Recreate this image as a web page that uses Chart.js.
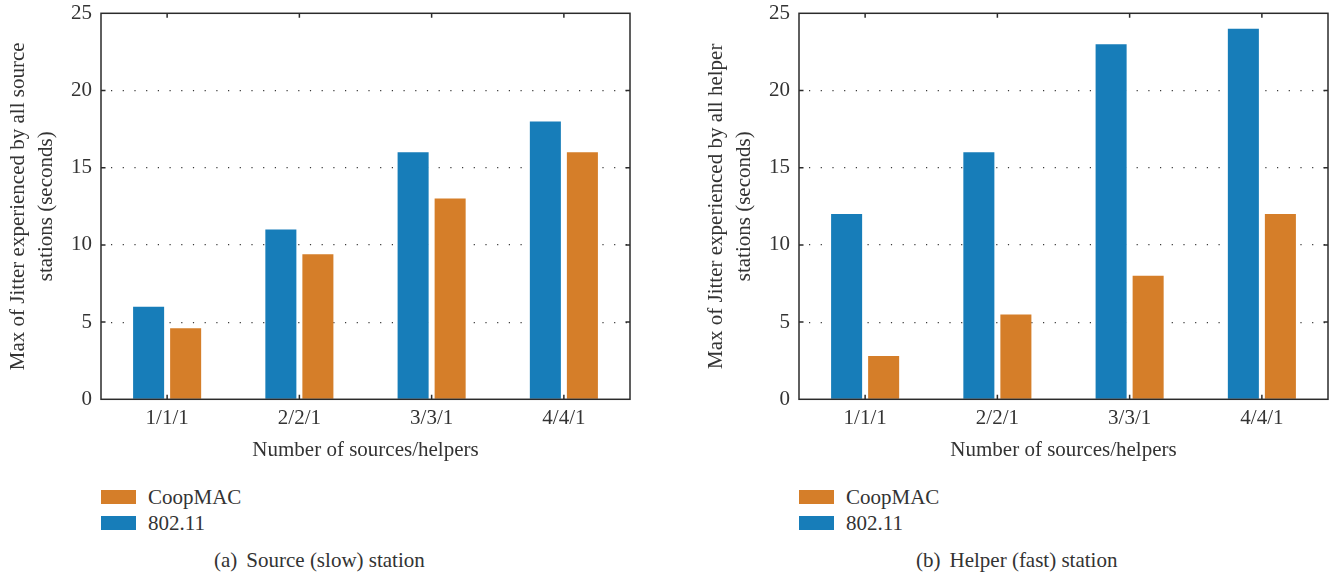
<!DOCTYPE html>
<html>
<head>
<meta charset="utf-8">
<script src="https://cdn.jsdelivr.net/npm/chart.js@4.4.1/dist/chart.umd.min.js"></script>
<style>
  html, body { margin: 0; padding: 0; background: #fff; overflow: hidden; }
  body { width: 1331px; height: 575px; position: relative; font-family: "Liberation Serif", serif; color: #333; }
  .panel { position: absolute; top: 0; width: 633px; height: 470px; }
  .legend { position: absolute; top: 490px; font-size: 21px; }
  .legend .row { display: flex; align-items: center; height: 14px; line-height: 14px; margin-bottom: 12px; white-space: nowrap; }
  .legend .swatch { width: 35px; height: 14px; margin-right: 12px; }
  .caption { position: absolute; top: 550px; font-size: 21px; line-height: 21px; white-space: nowrap; }
  .caption .tag { margin-right: 9px; }
</style>
</head>
<body>
<div class="panel" style="left:0"><canvas id="chartSource" width="633" height="470"></canvas></div>
<div class="panel" style="left:698px"><canvas id="chartHelper" width="633" height="470"></canvas></div>
<div class="legend" id="legendSource" style="left:101px"></div>
<div class="legend" id="legendHelper" style="left:799px"></div>
<div class="caption" style="left:214px"><span class="tag">(a)</span>Source (slow) station</div>
<div class="caption" style="left:916px"><span class="tag">(b)</span>Helper (fast) station</div>

<script>
// Categories: number of sources / helpers
const categories = ['1/1/1', '2/2/1', '3/3/1', '4/4/1'];

// Max jitter (seconds) seen by the source (slow) stations
const sourceWifi = [6, 11, 16, 18];
const sourceCoop = [4.6, 9.4, 13, 16];

// Max jitter (seconds) seen by the helper (fast) stations
const helperWifi = [12, 16, 23, 24];
const helperCoop = [2.8, 5.5, 8, 12];

// Y axis tick values
const yTickValues = [0, 5, 10, 15, 20, 25];

const seriesNames = ['802.11', 'CoopMAC'];
const seriesColors = ['#177db9', '#d57e29'];

const FONT = "'Liberation Serif', serif";
const INK = '#333';

// Box around the plot area plus short inward tick marks on all four sides
const framePlugin = {
  id: 'frame',
  afterDatasetsDraw(chart) {
    const { ctx, chartArea: { left, right, top, bottom }, scales: { x, y } } = chart;
    const t = 4.5;
    ctx.save();
    ctx.strokeStyle = '#2b2b2b';
    ctx.lineWidth = 1.5;
    ctx.strokeRect(left, top, right - left, bottom - top);
    ctx.beginPath();
    x.ticks.forEach((_, i) => {
      const px = x.getPixelForTick(i);
      ctx.moveTo(px, top); ctx.lineTo(px, top + t);
      ctx.moveTo(px, bottom); ctx.lineTo(px, bottom - t);
    });
    y.ticks.forEach((tk, i) => {
      if (tk.value <= y.min || tk.value >= y.max) return;
      const py = y.getPixelForTick(i);
      ctx.moveTo(left, py); ctx.lineTo(left + t, py);
      ctx.moveTo(right, py); ctx.lineTo(right - t, py);
    });
    ctx.stroke();
    ctx.restore();
  }
};

function makeChart(id, wifi, coop, yTitle) {
  const ctx = document.getElementById(id);
  return new Chart(ctx, {
    type: 'bar',
    data: {
      labels: categories,
      datasets: [
        { label: seriesNames[0], data: wifi, backgroundColor: seriesColors[0], borderWidth: 0,
          categoryPercentage: 0.56, barPercentage: 0.838 },
        { label: seriesNames[1], data: coop, backgroundColor: seriesColors[1], borderWidth: 0,
          categoryPercentage: 0.56, barPercentage: 0.838 }
      ]
    },
    options: {
      responsive: false,
      animation: false,
      layout: { padding: { left: 0, right: 3, top: 13.3, bottom: 0 } },
      plugins: { legend: { display: false }, tooltip: { enabled: false } },
      scales: {
        x: {
          grid: { display: false, drawTicks: false },
          border: { display: false },
          ticks: { color: INK, padding: 6.5, font: { family: FONT, size: 21, lineHeight: 1.2 } },
          title: {
            display: true, text: 'Number of sources/helpers', color: INK,
            font: { family: FONT, size: 21, lineHeight: 1.2 }, padding: { top: 0, bottom: 7.4 }
          },
          afterFit(scale) { scale.height = 70.7; }
        },
        y: {
          min: 0, max: 25,
          afterBuildTicks(scale) { scale.ticks = yTickValues.map(v => ({ value: v })); },
          grid: {
            drawTicks: false,
            lineWidth: 1.2,
            color: c => (c.tick && c.tick.value > 0 && c.tick.value < 25) ? '#3a3a3a' : 'rgba(0,0,0,0)'
          },
          border: { display: false, dash: [1.2, 10.5], dashOffset: -10 },
          ticks: { color: INK, padding: 9, font: { family: FONT, size: 21, lineHeight: 0.4 } },
          title: {
            display: true, text: yTitle, color: INK,
            font: { family: FONT, size: 21, lineHeight: 1.333 }, padding: { top: 4, bottom: 0 }
          },
          afterFit(scale) { scale.width = 101; }
        }
      }
    },
    plugins: [framePlugin]
  });
}

makeChart('chartSource', sourceWifi, sourceCoop,
  ['Max of Jitter experienced by all source', 'stations (seconds)']);
makeChart('chartHelper', helperWifi, helperCoop,
  ['Max of Jitter experienced by all helper', 'stations (seconds)']);

// Legends list CoopMAC first, then 802.11
function buildLegend(id) {
  const box = document.getElementById(id);
  [1, 0].forEach(i => {
    const row = document.createElement('div');
    row.className = 'row';
    const sw = document.createElement('div');
    sw.className = 'swatch';
    sw.style.background = seriesColors[i];
    const label = document.createElement('span');
    label.textContent = seriesNames[i];
    row.appendChild(sw);
    row.appendChild(label);
    box.appendChild(row);
  });
}
buildLegend('legendSource');
buildLegend('legendHelper');
</script>
</body>
</html>
